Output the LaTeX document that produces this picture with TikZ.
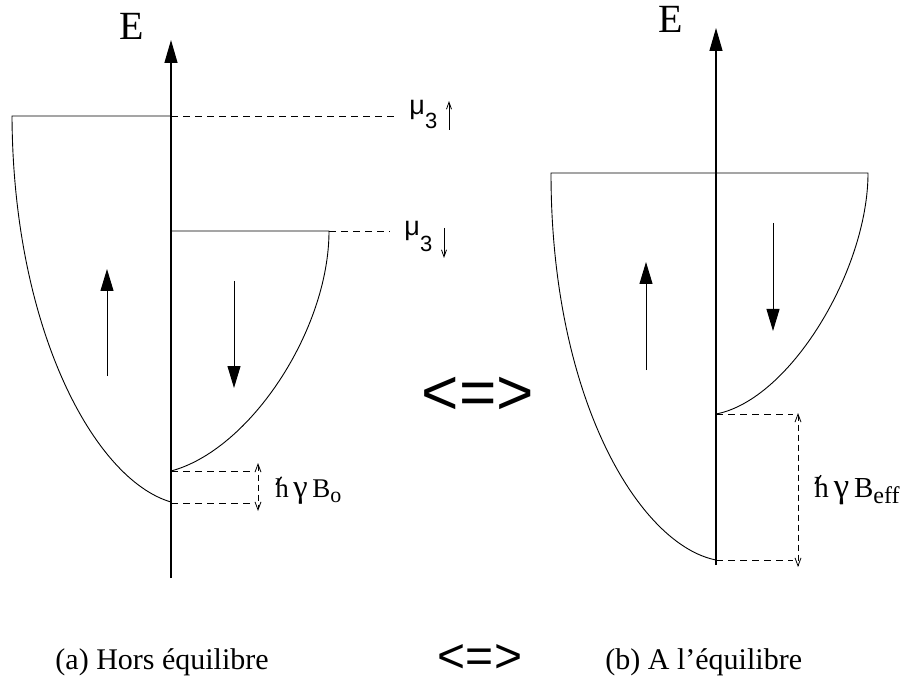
\documentclass[tikz,border=0pt]{standalone}
\usepackage{graphicx}
\usepackage{fontspec}
\setmainfont{Liberation Serif}
\newfontfamily\sansf{Liberation Sans}
\usetikzlibrary{arrows.meta}
\newcommand\hbarsl{\makebox[0pt][l]{\kern0.0em\raisebox{0.44em}{\rotatebox{55}{\rule{0.36em}{0.05em}}}}h}
\newcommand\gam{\scalebox{1.2}{γ}}
\begin{document}
\begin{tikzpicture}[x=1pt,y=-1pt,line width=0.9pt,
  band/.style={line width=0.9pt},
  lev/.style={line width=0.9pt,dash pattern=on 7pt off 5pt},
  axisarrow/.style={line width=1.2pt,-{Triangle[length=23pt,width=13pt]}},
  spinarrow/.style={line width=1pt,-{Triangle[length=22pt,width=13pt]}},
  gaparrow/.style={line width=0.8pt,dash pattern=on 6pt off 4pt,{Straight Barb[length=8pt,width=6pt]}-{Straight Barb[length=8pt,width=6pt]}},
  muarrow/.style={line width=0.8pt,-{Straight Barb[length=7pt,width=5pt]}},
  lbl/.style={inner sep=0pt,anchor=base west},
  efont/.style={font=\fontsize{40}{40}\selectfont,inner sep=0pt,anchor=base},
  mufont/.style={lbl,font=\sansf\fontsize{27}{27}\selectfont},
  capfont/.style={lbl,font=\fontsize{30}{30}\selectfont},
  eqv/.style={inner sep=0pt,anchor=base}
]
\useasboundingbox (0,0) rectangle (907,684);
\fill[white] (0,0) rectangle (907,684);

% ---------- left diagram (a) ----------
\coordinate (LA0) at (171,578);
\coordinate (LA1) at (171,40);
\draw[axisarrow] (LA0) -- (LA1);
\node[efont] (LE) at (132,40) {E};

\coordinate (LUt) at (12,116);
\coordinate (LUa) at (171,116);
\coordinate (LUb) at (171,502);
\coordinate (LUd) at (395,116);
\draw[band] (LUb) .. controls (95,480) and (13,330) .. (LUt) -- (LUa);
\draw[lev] (LUa) -- (LUd);

\coordinate (LDa) at (171,231);
\coordinate (LDt) at (329,231);
\coordinate (LDb) at (171,471);
\coordinate (LDd) at (390,231);
\draw[band] (LDa) -- (LDt) .. controls (329,330) and (250,450) .. (LDb);
\draw[lev] (LDt) -- (LDd);

\node[mufont] (Lmu1) at (409,115) {μ\raisebox{-14pt}{\fontsize{22}{22}\selectfont 3}};
\node[mufont] (Lmu2) at (404,236) {μ\raisebox{-16pt}{\fontsize{22}{22}\selectfont 3}};
\coordinate (Lm1a) at (449,130);
\coordinate (Lm1b) at (449,101);
\coordinate (Lm2a) at (444,228);
\coordinate (Lm2b) at (444,258);
\draw[muarrow] (Lm1a) -- (Lm1b);
\draw[muarrow] (Lm2a) -- (Lm2b);

\coordinate (LS1a) at (107,376);
\coordinate (LS1b) at (107,269);
\coordinate (LS2a) at (234,281);
\coordinate (LS2b) at (234,388);
\draw[spinarrow] (LS1a) -- (LS1b);
\draw[spinarrow] (LS2a) -- (LS2b);

\coordinate (LG1) at (252,471);
\coordinate (LG2) at (252,503);
\coordinate (LG3) at (171,503);
\coordinate (LGa) at (258,463);
\coordinate (LGb) at (258,511);
\draw[lev] (LDb) -- (LG1);
\draw[lev] (LG3) -- (LG2);
\draw[gaparrow] (LGa) -- (LGb);
\node[lbl,font=\fontsize{27}{27}\selectfont] (Lh) at (275,497)
  {\hbarsl\,\gam\,B\raisebox{-5pt}{\fontsize{22}{22}\selectfont o}};

% ---------- middle ----------
\node[eqv,font=\sansf\fontsize{64}{64}\selectfont] (Meq) at (478,414) {<=>};

% ---------- right diagram (b) ----------
\coordinate (RA0) at (716,565);
\coordinate (RA1) at (716,28);
\draw[axisarrow] (RA0) -- (RA1);
\node[efont] (RE) at (671,33) {E};

\coordinate (RTl) at (551,173);
\coordinate (RTr) at (868,173);
\coordinate (RUb) at (716,560);
\coordinate (RDb) at (716,414);
\draw[band] (RUb) .. controls (640,545) and (551,400) .. (RTl) -- (RTr)
  .. controls (868,270) and (790,400) .. (RDb);

\coordinate (RS1a) at (646,370);
\coordinate (RS1b) at (646,262);
\coordinate (RS2a) at (773,223);
\coordinate (RS2b) at (773,331);
\draw[spinarrow] (RS1a) -- (RS1b);
\draw[spinarrow] (RS2a) -- (RS2b);

\coordinate (RG1) at (793,414);
\coordinate (RG2) at (793,560);
\coordinate (RGa) at (798,413);
\coordinate (RGb) at (798,567);
\draw[lev] (RDb) -- (RG1);
\draw[lev] (RUb) -- (RG2);
\draw[gaparrow] (RGa) -- (RGb);
\node[lbl,font=\fontsize{29}{29}\selectfont] (Rh) at (814,497)
  {\hbarsl\,\gam\,B\raisebox{-6pt}{\fontsize{24}{24}\selectfont eff}};

% ---------- captions ----------
\node[capfont] (Ca) at (55,669) {(a) Hors équilibre};
\node[eqv,font=\sansf\fontsize{48}{48}\selectfont] (Ceq) at (480,672) {<=>};
\node[capfont] (Cb) at (605,669) {(b) A l’équilibre};
\end{tikzpicture}
\end{document}
